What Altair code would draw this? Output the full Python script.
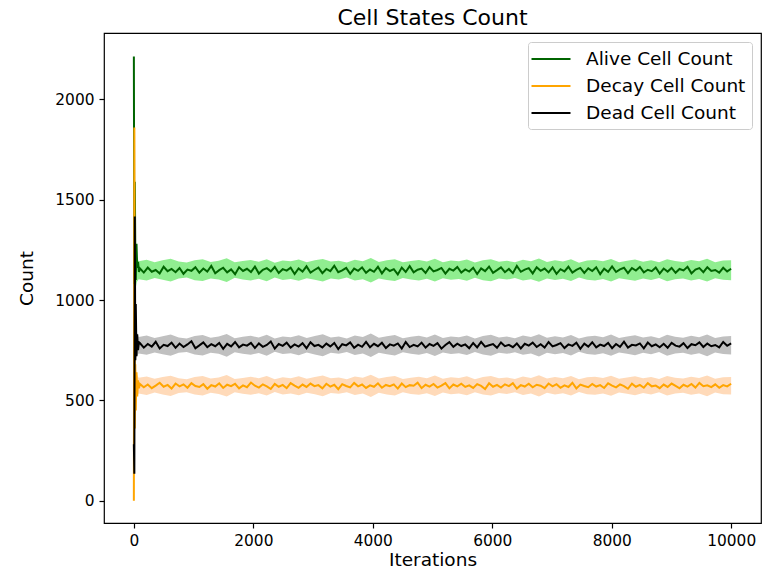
import altair as alt
import numpy as np
import pandas as pd

series_names = ["Alive Cell Count", "Decay Cell Count", "Dead Cell Count"]
line_colors = ["darkgreen", "orange", "black"]
band_colors = ["lightgreen", "peachpuff", "silver"]

x_ticks = [0, 2000, 4000, 6000, 8000, 10000]
y_ticks = [0, 500, 1000, 1500, 2000]

# early transient (iterations)
transient_x = [0, 8, 16, 24, 32, 44, 56, 70, 85]
alive_t = [2214, 1080, 1590, 1250, 1100, 1280, 1160, 1190, 1140]
decay_t = [0, 1860, 360, 680, 450, 640, 520, 600, 560]
dead_t = [281, 135, 1416, 700, 980, 720, 830, 750, 790]

alive = [
    1158, 1137, 1162, 1141, 1150, 1133, 1166, 1144, 1155, 1139, 1160, 1131, 1152, 1146, 1164,
    1136, 1157, 1142, 1170, 1134, 1149, 1161, 1138, 1153, 1129, 1163, 1145, 1156, 1140, 1167,
    1132, 1151, 1159, 1143, 1165, 1135, 1154, 1147, 1161, 1130, 1158, 1142, 1168, 1137, 1150,
    1162, 1134, 1155, 1144, 1171, 1139, 1148, 1160, 1131, 1157, 1146, 1163, 1136, 1152, 1141,
    1166, 1133, 1159, 1145, 1154, 1128, 1162, 1140, 1169, 1138, 1151, 1157, 1135, 1164, 1143,
    1150, 1160, 1132, 1156, 1147, 1165, 1137, 1153, 1142, 1161, 1130, 1158, 1144, 1167, 1136,
    1149, 1163, 1139, 1155, 1134, 1170, 1141, 1152, 1159, 1133, 1164, 1146, 1157, 1138, 1162,
    1131, 1154, 1143, 1166, 1137, 1150, 1160, 1135, 1158, 1145, 1163, 1129, 1156, 1141, 1168,
    1140, 1153, 1161, 1134, 1159, 1147, 1165, 1138, 1151, 1144, 1162, 1132, 1157, 1142, 1160,
    1136, 1155, 1148, 1166, 1133, 1152, 1159, 1139, 1164, 1145, 1150, 1137, 1161, 1143, 1156,
]
decay = [
    582, 565, 579, 561, 574, 588, 568, 577, 559, 584, 570, 580, 563, 586, 572,
    567, 581, 558, 576, 569, 585, 562, 578, 571, 583, 560, 575, 566, 589, 573,
    564, 580, 570, 557, 582, 568, 577, 561, 586, 574, 563, 579, 567, 584, 571,
    576, 560, 583, 569, 578, 556, 581, 572, 565, 587, 570, 579, 562, 575, 568,
    585, 563, 577, 571, 580, 559, 584, 566, 576, 573, 588, 561, 578, 569, 582,
    564, 574, 586, 560, 579, 570, 583, 567, 575, 562, 581, 572, 557, 585, 568,
    577, 564, 580, 571, 586, 559, 576, 569, 583, 565, 578, 573, 561, 584, 570,
    581, 563, 575, 567, 588, 560, 579, 572, 566, 582, 569, 576, 562, 585, 574,
    565, 580, 571, 558, 583, 568, 577, 563, 586, 570, 574, 561, 579, 567, 584,
    572, 560, 578, 569, 582, 564, 587, 571, 575, 566, 580, 563, 576, 570, 583,
]
dead = [
    786, 763, 781, 768, 792, 759, 777, 771, 788, 762, 783, 766, 779, 795, 760,
    774, 789, 765, 780, 770, 786, 757, 782, 769, 791, 764, 778, 773, 787, 761,
    784, 767, 776, 793, 758, 781, 772, 788, 763, 779, 768, 785, 760, 790, 771,
    777, 764, 783, 769, 786, 756, 780, 774, 789, 762, 778, 767, 792, 765, 782,
    770, 787, 761, 779, 773, 784, 759, 791, 766, 777, 769, 788, 763, 781, 772,
    785, 758, 776, 790, 767, 783, 771, 779, 760, 786, 764, 792, 768, 775, 781,
    762, 789, 770, 777, 765, 784, 759, 782, 773, 788, 766, 780, 763, 791, 769,
    776, 785, 761, 779, 772, 787, 757, 783, 768, 790, 764, 778, 771, 786, 760,
    781, 767, 793, 763, 777, 774, 784, 759, 788, 770, 779, 765, 782, 762, 787,
    773, 768, 785, 761, 780, 775, 789, 766, 783, 770, 776, 764, 791, 772, 784,
]

# shaded bands
band_transient_x = [0, 15, 30, 50]
alive_hi_t = [2230, 1600, 1300, 1220]
alive_lo_t = [1040, 1000, 1060, 1090]
decay_hi_t = [1870, 700, 660, 630]
decay_lo_t = [0, 300, 480, 520]
dead_hi_t = [1420, 1300, 900, 840]
dead_lo_t = [130, 600, 690, 720]

alive_hi = [
    1194, 1201, 1189, 1198, 1206, 1192, 1187, 1199, 1203, 1190, 1196, 1208, 1188, 1195, 1200,
    1191, 1204, 1186, 1197, 1193, 1202, 1189, 1199, 1205, 1192, 1196, 1187, 1201, 1194, 1210,
    1190, 1198, 1203, 1188, 1195, 1200, 1192, 1206, 1189, 1197, 1193, 1202, 1187, 1199, 1204,
    1191, 1196, 1188, 1201, 1194, 1207, 1190, 1198, 1192, 1203, 1186, 1197, 1200, 1193, 1205,
    1189, 1196, 1202, 1191, 1198, 1188, 1204, 1195, 1190, 1200, 1193, 1206, 1189, 1197, 1199,
]
alive_lo = [
    1104, 1097, 1110, 1101, 1093, 1107, 1112, 1099, 1095, 1108, 1102, 1090, 1111, 1103, 1098,
    1106, 1094, 1113, 1100, 1105, 1096, 1109, 1101, 1092, 1107, 1103, 1112, 1097, 1104, 1088,
    1108, 1100, 1095, 1110, 1102, 1098, 1106, 1093, 1109, 1101, 1105, 1096, 1111, 1099, 1094,
    1107, 1102, 1110, 1097, 1104, 1091, 1108, 1100, 1106, 1095, 1112, 1101, 1098, 1105, 1093,
    1109, 1103, 1096, 1107, 1100, 1110, 1094, 1104, 1108, 1098, 1105, 1092, 1109, 1101, 1099,
]
decay_hi = [
    613, 619, 608, 616, 623, 610, 606, 617, 621, 609, 614, 626, 607, 612, 618,
    611, 622, 605, 615, 610, 620, 608, 617, 624, 611, 614, 606, 619, 613, 628,
    609, 616, 621, 607, 613, 618, 611, 624, 608, 615, 612, 620, 606, 617, 622,
    610, 614, 607, 619, 612, 625, 609, 616, 611, 621, 605, 615, 618, 612, 623,
    608, 614, 620, 610, 616, 607, 622, 613, 609, 618, 612, 624, 608, 615, 617,
]
decay_lo = [
    534, 527, 539, 530, 522, 537, 541, 529, 525, 538, 532, 519, 540, 533, 528,
    536, 524, 542, 530, 535, 526, 538, 531, 521, 537, 533, 541, 527, 534, 517,
    538, 530, 525, 540, 532, 528, 536, 522, 539, 531, 535, 526, 541, 529, 524,
    537, 532, 540, 527, 534, 520, 538, 530, 536, 525, 542, 531, 528, 535, 523,
    539, 533, 526, 537, 530, 540, 524, 534, 538, 528, 535, 521, 539, 531, 529,
]
dead_hi = [
    816, 823, 811, 820, 828, 814, 809, 821, 826, 812, 818, 831, 810, 817, 822,
    813, 827, 808, 819, 815, 825, 811, 821, 830, 814, 818, 809, 823, 816, 834,
    812, 820, 826, 810, 817, 822, 814, 829, 811, 819, 815, 824, 809, 821, 827,
    813, 818, 810, 823, 816, 830, 812, 820, 814, 826, 808, 819, 822, 815, 828,
    811, 818, 825, 813, 820, 810, 827, 817, 812, 822, 815, 829, 811, 819, 821,
]
dead_lo = [
    734, 727, 739, 730, 722, 737, 741, 729, 724, 738, 732, 718, 740, 733, 728,
    736, 723, 742, 731, 735, 725, 739, 729, 720, 737, 732, 741, 726, 734, 716,
    738, 730, 724, 740, 732, 727, 736, 721, 739, 731, 735, 726, 741, 729, 723,
    737, 732, 740, 727, 734, 719, 738, 730, 736, 724, 742, 731, 728, 735, 722,
    739, 733, 725, 737, 730, 741, 723, 734, 738, 727, 735, 720, 739, 731, 729,
]

# ---- assemble tables ----
line_x = list(transient_x) + list(np.linspace(100, 9999, len(alive)))
band_x = list(band_transient_x) + list(np.linspace(80, 9999, len(alive_hi)))

line_rows = []
for name, t, s in zip(series_names, [alive_t, decay_t, dead_t], [alive, decay, dead]):
    vals = list(t) + list(s)
    for xv, yv in zip(line_x, vals):
        line_rows.append({"iteration": float(xv), "count": yv, "series": name})
line_df = pd.DataFrame(line_rows)

band_tables = []
for ht, lt, h, l in zip(
    [alive_hi_t, decay_hi_t, dead_hi_t],
    [alive_lo_t, decay_lo_t, dead_lo_t],
    [alive_hi, decay_hi, dead_hi],
    [alive_lo, decay_lo, dead_lo],
):
    his = list(ht) + list(h)
    los = list(lt) + list(l)
    band_tables.append(pd.DataFrame({"iteration": [float(v) for v in band_x], "hi": his, "lo": los}))

font = "DejaVu Sans"
tick_font_size = 15.4
label_font_size = 18.5
x_scale = alt.Scale(domain=[-500, 10499], nice=False, zero=False)
y_scale = alt.Scale(domain=[-111, 2331], nice=False, zero=False)

x_axis = alt.Axis(values=x_ticks, format="d", title="Iterations", grid=False, domain=False,
                  tickColor="black", tickSize=5, tickWidth=1.2, labelFontSize=tick_font_size,
                  labelFont=font, labelColor="black", labelPadding=5,
                  titleFontSize=label_font_size, titleFont=font, titleFontWeight="normal",
                  titleColor="black", titlePadding=2, labelFlush=False)
y_axis = alt.Axis(values=y_ticks, format="d", title="Count", grid=False, domain=False,
                  tickColor="black", tickSize=5, tickWidth=1.2, labelFontSize=tick_font_size,
                  labelFont=font, labelColor="black", labelPadding=5,
                  titleFontSize=label_font_size, titleFont=font, titleFontWeight="normal",
                  titleColor="black", titlePadding=18, labelFlush=False)

layers = []
for df, col in zip(band_tables, band_colors):
    layers.append(
        alt.Chart(df).mark_area(opacity=1, color=col).encode(
            x=alt.X("iteration:Q", scale=x_scale, axis=x_axis),
            y=alt.Y("hi:Q", scale=y_scale, axis=y_axis),
            y2="lo:Q",
        )
    )

lines = alt.Chart(line_df).mark_line(strokeWidth=2).encode(
    x=alt.X("iteration:Q", scale=x_scale, axis=x_axis),
    y=alt.Y("count:Q", scale=y_scale, axis=y_axis),
    color=alt.Color(
        "series:N",
        sort=series_names,
        scale=alt.Scale(domain=series_names, range=line_colors),
        legend=alt.Legend(title=None, orient="top-right", offset=9,
                          symbolType="M-2,0H2", symbolSize=380, symbolStrokeWidth=2,
                          symbolOffset=6,
                          labelFontSize=label_font_size,
                          labelFont=font, labelColor="black", padding=6,
                          strokeColor="#cccccc", fillColor="rgba(255,255,255,0.8)",
                          cornerRadius=3, labelOffset=24, rowPadding=6,
                          labelLimit=300),
    ),
)
layers.append(lines)

chart = alt.layer(*layers).properties(
    width=657,
    height=490,
    background="white",
    title=alt.TitleParams("Cell States Count", fontSize=22, font=font, fontWeight="normal",
                          anchor="middle", offset=3, color="black"),
    autosize=alt.AutoSizeParams(type="none"),
    padding={"left": 96, "top": 25, "right": 1, "bottom": 49},
).configure_view(stroke="black", strokeWidth=1.2)

chart.save("out.html", embed_options={"renderer": "svg", "actions": False})
